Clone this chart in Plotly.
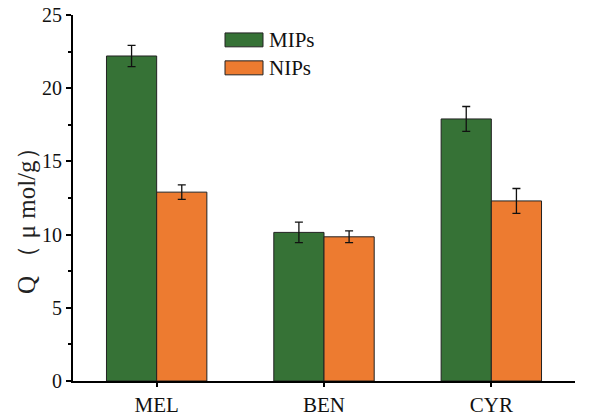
import plotly.graph_objects as go

categories = ["MEL", "BEN", "CYR"]
mips = [22.2, 10.15, 17.9]
mips_err = [0.72, 0.7, 0.85]
nips = [12.9, 9.85, 12.3]
nips_err = [0.5, 0.4, 0.85]
series_names = ["MIPs", "NIPs"]
y_title = "Q （ μ mol/g）"

GREEN = "#367236"
ORANGE = "#ED7B30"
FONT = "Liberation Serif"

fig = go.Figure()
fig.add_trace(go.Bar(
    name=series_names[0], x=categories, y=mips,
    marker=dict(color=GREEN, line=dict(color="#222222", width=1)),
    error_y=dict(type="data", array=mips_err, color="#111111", thickness=1.3, width=4),
))
fig.add_trace(go.Bar(
    name=series_names[1], x=categories, y=nips,
    marker=dict(color=ORANGE, line=dict(color="#222222", width=1)),
    error_y=dict(type="data", array=nips_err, color="#111111", thickness=1.3, width=4),
))

# manual legend (wide swatches like the reference)
legend_rows = [(series_names[0], GREEN, 0.951, 0.913, 0.932),
               (series_names[1], ORANGE, 0.8747, 0.8365, 0.8556)]
for name, col, ytop, ybot, ytext in legend_rows:
    fig.add_shape(type="rect", xref="x domain", yref="y domain",
                  x0=0.3028, x1=0.3785, y0=ybot, y1=ytop,
                  fillcolor=col, line=dict(color="#222222", width=1))
    fig.add_annotation(xref="x domain", yref="y domain", x=0.3864, y=ytext,
                       xanchor="left", yanchor="middle", showarrow=False,
                       text=name, font=dict(family=FONT, size=21, color="#111111"))

# y-axis title as rotated annotation (positioned like the reference)
fig.add_annotation(xref="paper", yref="paper", x=-0.0916, y=0.4536,
                   xanchor="center", yanchor="middle", showarrow=False, textangle=-90,
                   text=y_title, font=dict(family=FONT, size=25, color="#222222"))

fig.update_layout(
    width=592, height=419,
    margin=dict(l=73, r=17, t=15, b=38),
    paper_bgcolor="white", plot_bgcolor="white",
    barmode="group", bargap=0.4, bargroupgap=0,
    font=dict(family=FONT, color="#111111"),
    showlegend=False,
    xaxis=dict(
        range=[-0.5, 2.5], showline=True, linecolor="black", linewidth=2,
        ticks="outside", ticklen=4, tickwidth=1.5, tickcolor="black",
        tickfont=dict(family=FONT, size=21, color="#111111"),
        minor=dict(ticks="outside", ticklen=4, tickwidth=1.5, tickcolor="black"),
        showgrid=False, zeroline=False, automargin=False,
    ),
    yaxis=dict(
        range=[0, 25], showline=True, linecolor="black", linewidth=2,
        ticks="outside", ticklen=5, tickwidth=1.5, tickcolor="black",
        tickvals=[0, 5, 10, 15, 20, 25],
        tickfont=dict(family=FONT, size=20, color="#111111"),
        minor=dict(ticks="outside", ticklen=3, tickwidth=1.5, tickcolor="black", dtick=2.5),
        showgrid=False, zeroline=False, automargin=False,
    ),
)

fig.write_html("out.html")
